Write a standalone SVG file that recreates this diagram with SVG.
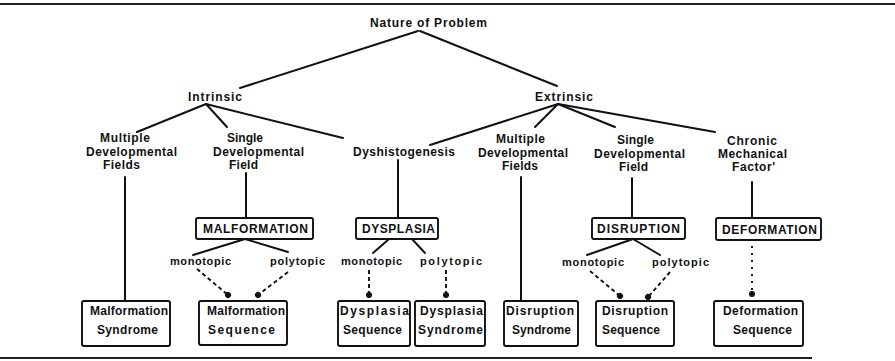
<svg xmlns="http://www.w3.org/2000/svg" width="895" height="361" viewBox="0 0 895 361">
<style>
text{font-family:"Liberation Sans",Arial,sans-serif;font-weight:bold;font-size:12px;fill:#111}
.cap{font-size:12px}
.sm{font-size:11px}
.ln{stroke:#111;stroke-width:2;fill:none;stroke-linecap:round}
.dash{stroke:#111;stroke-width:1.9;fill:none;stroke-dasharray:4 3}
.dot{stroke:#111;stroke-width:1.9;fill:none;stroke-dasharray:2 5}
.box{fill:#fff;stroke:#111;stroke-width:1.9}
.rule{stroke:#222;stroke-width:2}
</style>
<defs>
<marker id="bead" viewBox="0 0 6 6" refX="3" refY="3" markerWidth="3.2" markerHeight="3.2" markerUnits="strokeWidth" orient="auto">
<circle cx="3" cy="3" r="3" fill="#111"/>
</marker>
</defs>
<rect width="895" height="361" fill="#fff"/>
<line class="rule" x1="0" y1="4" x2="895" y2="4"/>
<line class="rule" x1="0" y1="358" x2="812" y2="358"/>

<g id="connectors">
<line class="ln" x1="418" y1="31" x2="240" y2="88"/>
<line class="ln" x1="420" y1="31" x2="557" y2="86"/>
<line class="ln" x1="206" y1="104" x2="137" y2="132"/>
<line class="ln" x1="206" y1="104" x2="227" y2="127"/>
<line class="ln" x1="206" y1="104" x2="343" y2="138"/>
<line class="ln" x1="558" y1="104" x2="430" y2="145"/>
<line class="ln" x1="558" y1="104" x2="535" y2="127"/>
<line class="ln" x1="558" y1="104" x2="615" y2="127"/>
<line class="ln" x1="558" y1="104" x2="715" y2="132"/>
<line class="ln" x1="125" y1="177" x2="125" y2="301"/>
<line class="ln" x1="246" y1="173" x2="246" y2="218"/>
<line class="ln" x1="398" y1="160" x2="398" y2="218"/>
<line class="ln" x1="521" y1="177" x2="521" y2="301"/>
<line class="ln" x1="632" y1="178" x2="632" y2="218"/>
<line class="ln" x1="752" y1="182" x2="752" y2="218"/>
<line class="ln" x1="245" y1="239" x2="193" y2="255"/>
<line class="ln" x1="245" y1="239" x2="288" y2="252"/>
<line class="ln" x1="389" y1="239" x2="373" y2="253"/>
<line class="ln" x1="412" y1="239" x2="425" y2="253"/>
<line class="ln" x1="633" y1="239" x2="587" y2="255"/>
<line class="ln" x1="633" y1="239" x2="660" y2="255"/>
<line class="dash" x1="197" y1="269" x2="228" y2="295" marker-end="url(#bead)"/>
<line class="dash" x1="288" y1="272" x2="258" y2="295" marker-end="url(#bead)"/>
<line class="dash" x1="369" y1="270" x2="369" y2="295" marker-end="url(#bead)"/>
<line class="dash" x1="446" y1="270" x2="446" y2="295" marker-end="url(#bead)"/>
<line class="dash" x1="590" y1="271" x2="620" y2="296" marker-end="url(#bead)"/>
<line class="dash" x1="670" y1="272" x2="648" y2="297" marker-end="url(#bead)"/>
<line class="dot" x1="752" y1="246" x2="752" y2="294" marker-end="url(#bead)"/>
</g>

<g id="nature"><text x="370" y="27" textLength="117" lengthAdjust="spacing">Nature of Problem</text></g>
<g id="intrinsic"><text x="188" y="101" textLength="54" lengthAdjust="spacing">Intrinsic</text></g>
<g id="extrinsic"><text x="535" y="101" textLength="58" lengthAdjust="spacing">Extrinsic</text></g>

<g id="int-multiple">
<text x="100" y="142" textLength="50" lengthAdjust="spacing">Multiple</text>
<text x="86" y="156" textLength="91" lengthAdjust="spacing">Developmental</text>
<text x="103" y="169" textLength="37" lengthAdjust="spacing">Fields</text>
</g>
<g id="int-single">
<text x="227" y="142" textLength="36" lengthAdjust="spacing">Single</text>
<text x="213" y="156" textLength="91" lengthAdjust="spacing">Developmental</text>
<text x="229" y="169" textLength="29" lengthAdjust="spacing">Field</text>
</g>
<g id="dyshistogenesis"><text x="353" y="156" textLength="102" lengthAdjust="spacing">Dyshistogenesis</text></g>
<g id="ext-multiple">
<text x="496" y="143" textLength="49" lengthAdjust="spacing">Multiple</text>
<text x="478" y="157" textLength="90" lengthAdjust="spacing">Developmental</text>
<text x="502" y="170" textLength="36" lengthAdjust="spacing">Fields</text>
</g>
<g id="ext-single">
<text x="617" y="144" textLength="37" lengthAdjust="spacing">Single</text>
<text x="594" y="158" textLength="91" lengthAdjust="spacing">Developmental</text>
<text x="619" y="171" textLength="29" lengthAdjust="spacing">Field</text>
</g>
<g id="chronic">
<text x="727" y="145" textLength="50" lengthAdjust="spacing">Chronic</text>
<text x="718" y="158" textLength="69" lengthAdjust="spacing">Mechanical</text>
<text x="732" y="171" textLength="43" lengthAdjust="spacing">Factor'</text>
</g>

<g id="malformation">
<rect class="box" x="196" y="218" width="117" height="21" rx="2"/>
<text class="cap" x="203" y="233" textLength="105" lengthAdjust="spacing">MALFORMATION</text>
</g>
<g id="dysplasia">
<rect class="box" x="356" y="218" width="82" height="21" rx="2"/>
<text class="cap" x="362" y="233" textLength="73" lengthAdjust="spacing">DYSPLASIA</text>
</g>
<g id="disruption">
<rect class="box" x="592" y="218" width="93" height="21" rx="2"/>
<text class="cap" x="597" y="233" textLength="83" lengthAdjust="spacing">DISRUPTION</text>
</g>
<g id="deformation">
<rect class="box" x="716" y="218" width="105" height="22" rx="2"/>
<text class="cap" x="722" y="234" textLength="95" lengthAdjust="spacing">DEFORMATION</text>
</g>

<g id="labels-topic">
<text class="sm" x="170" y="265" textLength="61" lengthAdjust="spacing">monotopic</text>
<text class="sm" x="270" y="265" textLength="55" lengthAdjust="spacing">polytopic</text>
<text class="sm" x="341" y="265" textLength="61" lengthAdjust="spacing">monotopic</text>
<text class="sm" x="420" y="265" textLength="62" lengthAdjust="spacing">polytopic</text>
<text class="sm" x="562" y="266" textLength="62" lengthAdjust="spacing">monotopic</text>
<text class="sm" x="652" y="266" textLength="57" lengthAdjust="spacing">polytopic</text>
</g>

<g id="malformation-syndrome">
<rect class="box" x="82" y="301" width="88" height="45" rx="2"/>
<text x="90" y="315" textLength="78" lengthAdjust="spacing">Malformation</text>
<text x="97" y="334" textLength="61" lengthAdjust="spacing">Syndrome</text>
</g>
<g id="malformation-sequence">
<rect class="box" x="199" y="301" width="88" height="44" rx="2"/>
<text x="207" y="315" textLength="78" lengthAdjust="spacing">Malformation</text>
<text x="208" y="334" textLength="67" lengthAdjust="spacing">Sequence</text>
</g>
<g id="dysplasia-sequence">
<rect class="box" x="338" y="301" width="72" height="45" rx="2"/>
<text x="340" y="315" textLength="69" lengthAdjust="spacing">Dysplasia</text>
<text x="343" y="334" textLength="59" lengthAdjust="spacing">Sequence</text>
</g>
<g id="dysplasia-syndrome">
<rect class="box" x="415" y="301" width="70" height="45" rx="2"/>
<text x="420" y="315" textLength="63" lengthAdjust="spacing">Dysplasia</text>
<text x="418" y="334" textLength="65" lengthAdjust="spacing">Syndrome</text>
</g>
<g id="disruption-syndrome">
<rect class="box" x="504" y="301" width="74" height="45" rx="2"/>
<text x="506" y="315" textLength="68" lengthAdjust="spacing">Disruption</text>
<text x="512" y="334" textLength="59" lengthAdjust="spacing">Syndrome</text>
</g>
<g id="disruption-sequence">
<rect class="box" x="596" y="301" width="78" height="45" rx="2"/>
<text x="602" y="315" textLength="66" lengthAdjust="spacing">Disruption</text>
<text x="602" y="334" textLength="58" lengthAdjust="spacing">Sequence</text>
</g>
<g id="deformation-sequence">
<rect class="box" x="714" y="301" width="89" height="45" rx="2"/>
<text x="723" y="315" textLength="75" lengthAdjust="spacing">Deformation</text>
<text x="733" y="334" textLength="59" lengthAdjust="spacing">Sequence</text>
</g>
</svg>
